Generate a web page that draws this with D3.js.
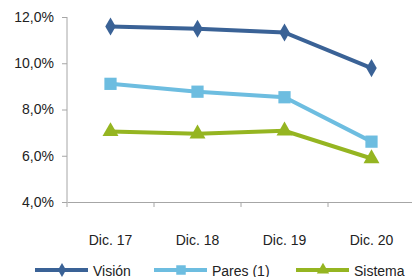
<!DOCTYPE html>
<html>
<head>
<meta charset="utf-8">
<script src="https://cdn.jsdelivr.net/npm/d3@7"></script>
<style>
  body { margin: 0; background: #fff; }
  text { font-family: "Liberation Sans", Arial, sans-serif; fill: #222; }
</style>
</head>
<body>
<script>
// Chart data
var categories = ["Dic. 17", "Dic. 18", "Dic. 19", "Dic. 20"];
var vision = [11.59, 11.49, 11.33, 9.79];
var pares = [9.11, 8.77, 8.53, 6.61];
var sistema = [7.05, 6.95, 7.08, 5.88];
var yTicks = [4, 6, 8, 10, 12];

var series = [
  { name: "Visión", values: vision, color: "#3A6296", symbol: d3.symbolDiamond, size: 95 },
  { name: "Pares (1)", values: pares, color: "#6DBDE0", symbol: d3.symbolSquare, size: 150 },
  { name: "Sistema", values: sistema, color: "#95B521", symbol: d3.symbolTriangle, size: 110 }
];

var svgWidth = 412;
var svgHeight = 277;

var svg = d3.select("body")
  .append("svg")
  .attr("width", svgWidth)
  .attr("height", svgHeight);

var xScale = d3.scaleBand()
  .domain(categories)
  .range([67, 415]);

var yScale = d3.scaleLinear()
  .domain([4, 12])
  .range([202, 17]);

// y axis
var yAxis = d3.axisLeft(yScale)
  .tickValues(yTicks)
  .tickSize(5)
  .tickFormat(d => d.toFixed(1).replace(".", ",") + "%");

var gy = svg.append("g")
  .attr("transform", "translate(67,0)")
  .call(yAxis);
gy.selectAll("path, line").attr("stroke", "#A6A6A6");
gy.select(".domain").attr("d", "M0,17V202");
gy.selectAll("text").attr("font-size", 14).attr("x", -13).attr("fill", "#222");

// x axis
var xAxis = d3.axisBottom(xScale).tickSize(5).tickSizeOuter(0);
var gx = svg.append("g")
  .attr("transform", "translate(0,202)")
  .call(xAxis);
gx.selectAll("path, line").attr("stroke", "#A6A6A6");
gx.selectAll(".tick line").attr("transform", "translate(" + (-xScale.bandwidth() / 2) + ",0)");
gx.selectAll("text").attr("font-size", 14).attr("y", 33).attr("fill", "#222");

var line = d3.line()
  .x((d, i) => xScale(categories[i]) + xScale.bandwidth() / 2)
  .y(d => yScale(d));

series.forEach(function(s) {
  svg.append("path")
    .attr("d", line(s.values))
    .attr("fill", "none")
    .attr("stroke", s.color)
    .attr("stroke-width", 4);

  svg.selectAll(null)
    .data(s.values)
    .enter()
    .append("path")
    .attr("d", d3.symbol().type(s.symbol).size(s.size))
    .attr("fill", s.color)
    .attr("transform", (d, i) => "translate(" + (xScale(categories[i]) + xScale.bandwidth() / 2) + "," + yScale(d) + ")");
});

// legend
var legendX = [35, 154, 296];
var legendY = 270;
series.forEach(function(s, i) {
  var lx = legendX[i];
  var g = svg.append("g");
  g.append("line")
    .attr("x1", lx).attr("x2", lx + 53)
    .attr("y1", legendY).attr("y2", legendY)
    .attr("stroke", s.color).attr("stroke-width", 4);
  g.append("path")
    .attr("d", d3.symbol().type(s.symbol).size(s.size * 0.6))
    .attr("fill", s.color)
    .attr("transform", "translate(" + (lx + 27) + "," + legendY + ")");
  g.append("text")
    .attr("x", lx + 58)
    .attr("y", legendY + 6)
    .attr("font-size", 14)
    .text(s.name);
});
</script>
</body>
</html>
